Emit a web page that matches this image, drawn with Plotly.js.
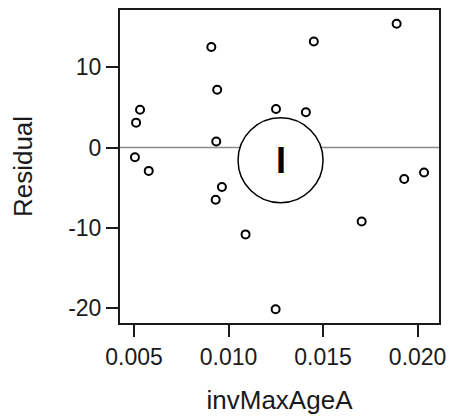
<!DOCTYPE html>
<html>
<head>
<meta charset="utf-8">
<script src="https://cdn.plot.ly/plotly-3.0.1.min.js"></script>
<style>
  html, body { margin: 0; padding: 0; background: #fff; }
  #chart { width: 451px; height: 420px; }
</style>
</head>
<body>
<div id="chart"></div>
<script>
// Residuals against inverse maximum age
const invMaxAgeA = [
  0.01889, 0.01451, 0.00909, 0.00940, 0.00532, 0.00511,
  0.01251, 0.01409, 0.00935, 0.00505, 0.00578, 0.01929,
  0.02034, 0.00965, 0.00932, 0.01090, 0.01704, 0.01249
];
const residual = [
  15.4, 13.2, 12.5, 7.2, 4.7, 3.1,
  4.8, 4.4, 0.75, -1.2, -2.9, -3.9,
  -3.1, -4.9, -6.5, -10.8, -9.2, -20.1
];

const xTicks = [0.005, 0.010, 0.015, 0.020];
const xTickText = ['0.005', '0.010', '0.015', '0.020'];
const yTicks = [-20, -10, 0, 10];
const yTickText = ['-20', '-10', '0', '10'];

// Highlight ring with its label
const ringAt = [0.01275, -1.58];
const ringLabel = 'I';

const font = 'Arial, "Liberation Sans", Helvetica, sans-serif';

const trace = {
  type: 'scatter',
  mode: 'markers',
  x: invMaxAgeA,
  y: residual,
  marker: {
    symbol: 'circle-open',
    size: 8,
    color: '#000',
    line: { width: 2, color: '#000' }
  },
  hoverinfo: 'x+y'
};

const axisCommon = {
  showgrid: false,
  zeroline: false,
  showline: true,
  mirror: true,
  linecolor: '#1a1a1a',
  linewidth: 2,
  ticks: 'outside',
  ticklen: 12,
  tickwidth: 2,
  tickcolor: '#1a1a1a',
  tickfont: { family: font, size: 23, color: '#1a1a1a' },
  tickmode: 'array'
};

const layout = {
  width: 451,
  height: 420,
  margin: { l: 120, r: 12, t: 10, b: 97 },
  paper_bgcolor: '#fff',
  plot_bgcolor: '#fff',
  showlegend: false,
  xaxis: Object.assign({}, axisCommon, {
    range: [0.00426, 0.02113],
    tickvals: xTicks,
    ticktext: xTickText,
    title: { text: 'invMaxAgeA', font: { family: font, size: 26, color: '#1a1a1a' }, standoff: 22 }
  }),
  yaxis: Object.assign({}, axisCommon, {
    range: [-21.82, 17.11],
    tickvals: yTicks,
    ticktext: yTickText,
    title: { text: 'Residual', font: { family: font, size: 26, color: '#1a1a1a' }, standoff: 28 }
  }),
  shapes: [
    {
      type: 'line', xref: 'paper', yref: 'y',
      x0: 0, x1: 1, y0: 0, y1: 0,
      line: { color: '#8a8a8a', width: 1.5 },
      layer: 'below'
    },
    {
      type: 'circle', xref: 'x', yref: 'y',
      xsizemode: 'pixel', ysizemode: 'pixel',
      xanchor: ringAt[0], yanchor: ringAt[1],
      x0: -42.5, x1: 42.5, y0: -42.5, y1: 42.5,
      fillcolor: '#fff',
      line: { color: '#000', width: 1.5 }
    }
  ],
  annotations: [
    {
      x: ringAt[0], y: ringAt[1], xref: 'x', yref: 'y',
      text: '<b>' + ringLabel + '</b>',
      showarrow: false,
      font: { family: font, size: 36, color: '#000' },
      xanchor: 'center', yanchor: 'middle'
    }
  ]
};

Plotly.newPlot('chart', [trace], layout, { displayModeBar: false, staticPlot: true });
</script>
</body>
</html>
